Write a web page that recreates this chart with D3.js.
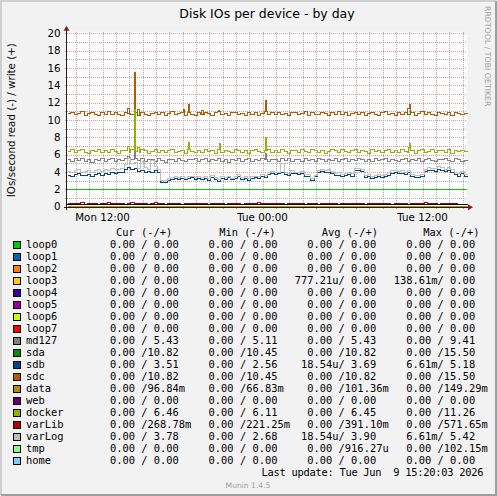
<!DOCTYPE html>
<html>
<head>
<meta charset="utf-8">
<script src="https://cdn.jsdelivr.net/npm/d3@7"></script>
<style>
  html, body { margin: 0; padding: 0; background: #f2f2f2; }
  svg { display: block; }
  text { font-family: "DejaVu Sans", sans-serif; }
  .mono text { font-family: "DejaVu Sans Mono", monospace; font-size: 10.4px; white-space: pre; }
</style>
</head>
<body>
<svg id="chart"></svg>
<script>
const width = 497;
const height = 496;

// time range of the day graph (30 h, 15 min samples)
const startTime = new Date(2026, 5, 8, 9, 20);
const endTime = new Date(2026, 5, 9, 15, 20);
const stepMin = 15;

const devices = ["loop0", "loop1", "loop2", "loop3", "loop4", "loop5", "loop6", "loop7", "md127",
    "sda", "sdb", "sdc", "data", "web", "docker", "varLib", "varLog", "tmp", "home"];
const colors = ["#00CC00", "#0066B3", "#FF8000", "#FFCC00", "#330099", "#990099", "#CCFF00", "#FF0000", "#808080",
    "#008F00", "#00487D", "#B35A00", "#B38F00", "#6B006B", "#8FB300", "#B30000", "#BEBEBE", "#80FF80", "#80C9FF"];

// legend statistics (read / write)
const curRead = [0, 0, 0, 0, 0, 0, 0, 0, 0, 0, 0, 0, 0, 0, 0, 0, 0, 0, 0];
const curWrite = [0, 0, 0, 0, 0, 0, 0, 0, 5.43, 10.82, 3.51, 10.82, 0.09684, 0, 6.46, 0.26878, 3.78, 0, 0];
const minRead = [0, 0, 0, 0, 0, 0, 0, 0, 0, 0, 0, 0, 0, 0, 0, 0, 0, 0, 0];
const minWrite = [0, 0, 0, 0, 0, 0, 0, 0, 5.11, 10.45, 2.56, 10.45, 0.06683, 0, 6.11, 0.22125, 2.68, 0, 0];
const avgRead = [0, 0, 0, 0.00077721, 0, 0, 0, 0, 0, 0, 0.00001854, 0, 0, 0, 0, 0, 0.00001854, 0, 0];
const avgWrite = [0, 0, 0, 0, 0, 0, 0, 0, 5.43, 10.82, 3.69, 10.82, 0.10136, 0, 6.45, 0.39110, 3.90, 0.00091627, 0];
const maxRead = [0, 0, 0, 0.13861, 0, 0, 0, 0, 0, 0, 0.00661, 0, 0, 0, 0, 0, 0.00661, 0, 0];
const maxWrite = [0, 0, 0, 0, 0, 0, 0, 0, 9.41, 15.50, 5.18, 15.50, 0.14929, 0, 11.26, 0.57165, 5.42, 0.10215, 0];

// write series, one value per 15 min
const sdcWrite = [
    10.80, 10.95, 10.65, 10.85, 11.00, 10.60, 10.80, 10.95, 10.70, 10.55, 10.90, 10.75, 11.00, 10.65, 10.90, 10.75, 10.60, 10.95, 10.80, 10.65,
    10.90, 10.60, 10.95, 10.75, 10.55, 10.85, 10.95, 10.70, 10.90, 10.60, 10.80, 11.00, 10.65, 10.80, 10.90, 10.55, 10.95, 10.75, 10.60, 10.90,
    10.70, 10.95, 10.80, 10.60, 10.90, 11.00, 10.70, 10.80, 10.55, 10.90, 10.95, 10.65, 10.80, 10.60, 10.95, 10.75, 10.90, 10.60, 10.80, 11.00,
    10.65, 10.90, 10.75, 10.95, 10.70, 10.80, 10.55, 10.95, 10.90, 10.65, 10.80, 11.00, 10.60, 10.90, 10.75, 10.65, 10.95, 10.80, 10.60, 10.90,
    10.75, 11.00, 10.65, 10.90, 10.60, 10.80, 10.95, 10.70, 10.90, 10.55, 10.80, 10.95, 10.75, 10.60, 10.90, 11.00, 10.70, 10.80, 10.60, 10.95,
    10.75, 10.90, 10.65, 10.95, 10.60, 10.80, 11.00, 10.70, 10.90, 10.75, 10.60, 10.95, 10.80, 10.65, 10.90, 10.60, 10.95, 10.80, 10.70, 10.82];
const sdaWrite = [
    10.80, 10.95, 10.65, 10.85, 11.00, 10.60, 10.80, 10.95, 10.70, 10.55, 10.90, 10.75, 11.00, 10.65, 10.90, 10.75, 10.60, 10.95, 10.80, 10.65,
    10.90, 10.60, 10.95, 10.75, 10.55, 10.85, 10.95, 10.70, 10.90, 10.60, 10.80, 11.00, 10.65, 10.80, 10.90, 10.55, 10.95, 10.75, 10.60, 10.90,
    10.70, 10.95, 10.80, 10.60, 10.90, 11.00, 10.70, 10.80, 10.55, 10.90, 10.95, 10.65, 10.80, 10.60, 10.95, 10.75, 10.90, 10.60, 10.80, 11.00,
    10.65, 10.90, 10.75, 10.95, 10.70, 10.80, 10.55, 10.95, 10.90, 10.65, 10.80, 11.00, 10.60, 10.90, 10.75, 10.65, 10.95, 10.80, 10.60, 10.90,
    10.75, 11.00, 10.65, 10.90, 10.60, 10.80, 10.95, 10.70, 10.90, 10.55, 10.80, 10.95, 10.75, 10.60, 10.90, 11.00, 10.70, 10.80, 10.60, 10.95,
    10.75, 10.90, 10.65, 10.95, 10.60, 10.80, 11.00, 10.70, 10.90, 10.75, 10.60, 10.95, 10.80, 10.65, 10.90, 10.60, 10.95, 10.80, 10.70, 10.82];
const dockerWrite = [
    6.45, 6.65, 6.30, 6.50, 6.70, 6.35, 6.25, 6.60, 6.40, 6.65, 6.30, 6.55, 6.35, 6.70, 6.45, 6.25, 6.60, 6.50, 6.35, 6.65,
    6.45, 6.30, 6.65, 6.50, 6.20, 6.45, 6.65, 6.35, 6.60, 6.30, 6.50, 6.70, 6.35, 6.45, 6.60, 6.25, 6.65, 6.45, 6.35, 6.60,
    6.30, 6.65, 6.45, 6.55, 6.25, 6.70, 6.35, 6.60, 6.45, 6.30, 6.65, 6.50, 6.35, 6.60, 6.25, 6.50, 6.65, 6.45, 6.30, 6.60,
    6.70, 6.35, 6.50, 6.30, 6.65, 6.45, 6.25, 6.60, 6.50, 6.35, 6.70, 6.45, 6.30, 6.65, 6.50, 6.35, 6.60, 6.25, 6.45, 6.65,
    6.50, 6.30, 6.65, 6.45, 6.35, 6.60, 6.70, 6.30, 6.50, 6.45, 6.25, 6.65, 6.45, 6.50, 6.30, 6.60, 6.70, 6.35, 6.50, 6.30,
    6.65, 6.45, 6.35, 6.60, 6.25, 6.50, 6.70, 6.35, 6.45, 6.65, 6.30, 6.50, 6.60, 6.35, 6.65, 6.25, 6.50, 6.45, 6.60, 6.46];
const md127Write = [
    5.45, 5.25, 5.60, 5.40, 5.65, 5.30, 5.45, 5.20, 5.55, 5.40, 5.60, 5.25, 5.45, 5.65, 5.30, 5.55, 5.40, 5.60, 5.70, 5.55,
    5.65, 5.40, 5.60, 5.30, 5.55, 5.45, 5.25, 5.60, 5.40, 5.20, 5.45, 5.55, 5.30, 5.60, 5.40, 5.25, 5.55, 5.45, 5.65, 5.30,
    5.45, 5.60, 5.25, 5.55, 5.40, 5.65, 5.30, 5.45, 5.20, 5.55, 5.40, 5.60, 5.30, 5.45, 5.65, 5.25, 5.55, 5.40, 5.60, 5.45,
    5.30, 5.55, 5.45, 5.25, 5.60, 5.40, 5.65, 5.30, 5.45, 5.55, 5.25, 5.60, 5.40, 5.45, 5.30, 5.65, 5.45, 5.25, 5.55, 5.40,
    5.60, 5.30, 5.45, 5.65, 5.25, 5.55, 5.40, 5.60, 5.45, 5.30, 5.55, 5.25, 5.65, 5.40, 5.45, 5.60, 5.30, 5.55, 5.40, 5.25,
    5.45, 5.60, 5.30, 5.55, 5.40, 5.65, 5.25, 5.45, 5.60, 5.40, 5.30, 5.55, 5.45, 5.65, 5.40, 5.25, 5.60, 5.45, 5.30, 5.43];
const sdbWrite = [
    3.70, 3.60, 3.75, 3.85, 3.65, 3.70, 3.80, 3.60, 3.75, 3.85, 3.70,
    3.90, 3.80, 4.00, 3.85, 3.95, 4.05,
    4.30, 4.60, 4.40, 4.50,
    4.10, 4.20, 4.00, 4.15, 4.05, 4.20, 3.95,
    2.90, 2.85,
    3.10, 3.25, 3.30, 3.20, 3.35, 3.15, 3.30, 3.40, 3.25, 3.35, 3.20,
    3.30, 3.10, 3.45, 3.25, 2.95, 3.35, 3.20, 3.40, 3.15, 3.30, 3.50, 3.20, 3.35, 3.05, 3.30,
    3.40, 3.30, 3.50, 3.45,
    3.80, 3.90, 3.75, 3.85, 3.95, 3.80, 3.70, 3.90, 3.85, 3.75, 3.90,
    3.60, 3.55, 3.10, 3.50,
    4.00, 4.10, 3.95, 4.05, 3.90,
    3.65, 3.70, 3.55, 3.65, 3.75, 3.60,
    4.20, 4.25, 4.10,
    3.45, 3.50, 3.35, 3.45, 3.55, 3.40, 3.50,
    3.70, 3.90, 3.95, 3.85, 3.90, 3.80, 3.95,
    3.50, 3.45, 3.40, 3.55,
    4.10, 4.20, 4.25, 4.15, 4.30, 4.20, 4.10, 4.25, 4.00,
    3.80, 3.60, 3.90, 3.51];
const varLogWrite = [
    4.10, 4.00, 4.20, 4.30, 4.05, 4.15, 4.25, 4.00, 4.20, 4.35, 4.10,
    4.30, 4.20, 4.45, 4.30, 4.40, 4.50,
    4.90, 5.60, 5.00, 5.20,
    4.50, 5.30, 4.60, 4.40, 5.40, 4.70, 4.30,
    3.10, 3.05,
    3.30, 3.45, 3.50, 3.40, 3.55, 3.35, 3.50, 3.60, 3.45, 3.55, 3.40,
    3.50, 3.30, 3.65, 3.45, 3.20, 3.55, 3.40, 3.60, 3.35, 3.50, 3.75, 3.40, 3.55, 3.30, 3.50,
    3.60, 3.50, 3.75, 3.65,
    4.00, 4.15, 3.95, 4.05, 5.00, 4.00, 3.90, 4.20, 4.05, 3.95, 4.10,
    3.80, 3.75, 3.30, 3.70,
    4.25, 4.35, 4.20, 4.30, 4.15,
    3.90, 3.95, 3.80, 3.90, 4.00, 3.85,
    4.45, 4.50, 4.35,
    3.70, 3.75, 3.60, 3.70, 3.80, 3.65, 3.75,
    3.95, 4.20, 4.25, 4.10, 4.20, 4.05, 4.25,
    3.75, 3.70, 3.65, 3.80,
    4.40, 4.60, 4.50, 4.45, 4.70, 4.55, 4.40, 4.60, 4.30,
    4.05, 3.85, 4.10, 3.78];
const varLibWrite = [
    0.42, 0.48, 0.38, 0.45, 0.50, 0.35, 0.44, 0.47, 0.40, 0.30, 0.46, 0.42, 0.49, 0.37, 0.44, 0.41, 0.48, 0.36, 0.45, 0.50,
    0.43, 0.38, 0.47, 0.44, 0.32, 0.46, 0.49, 0.40, 0.45, 0.35, 0.42, 0.48, 0.39, 0.44, 0.30, 0.46, 0.41, 0.47, 0.38, 0.44,
    0.40, 0.46, 0.35, 0.43, 0.48, 0.39, 0.45, 0.31, 0.42, 0.47, 0.40, 0.44, 0.36, 0.48, 0.42, 0.38, 0.45, 0.50, 0.40, 0.43,
    0.37, 0.46, 0.42, 0.39, 0.48, 0.34, 0.44, 0.41, 0.47, 0.38, 0.43, 0.30, 0.45, 0.40, 0.48, 0.36, 0.44, 0.42, 0.47, 0.39,
    0.45, 0.33, 0.43, 0.48, 0.40, 0.44, 0.37, 0.46, 0.42, 0.29, 0.45, 0.41, 0.48, 0.38, 0.44, 0.40, 0.47, 0.35, 0.43, 0.46,
    0.40, 0.44, 0.36, 0.48, 0.42, 0.39, 0.45, 0.50, 0.38, 0.43, 0.47, 0.33, 0.44, 0.40, 0.46, 0.38, 0.42, 0.30, 0.28, 0.27];
const dataWrite = [
    0.10, 0.12, 0.09, 0.11, 0.10, 0.08, 0.11, 0.13, 0.10, 0.09, 0.11, 0.10, 0.12, 0.09, 0.10, 0.11, 0.08, 0.10, 0.12, 0.10,
    0.09, 0.11, 0.10, 0.13, 0.10, 0.08, 0.11, 0.10, 0.09, 0.12, 0.10, 0.11, 0.09, 0.10, 0.12, 0.10, 0.08, 0.11, 0.10, 0.09,
    0.11, 0.10, 0.12, 0.09, 0.10, 0.11, 0.10, 0.08, 0.12, 0.10, 0.09, 0.11, 0.10, 0.13, 0.10, 0.09, 0.11, 0.10, 0.12, 0.09,
    0.10, 0.11, 0.09, 0.10, 0.12, 0.10, 0.08, 0.11, 0.10, 0.09, 0.12, 0.10, 0.11, 0.09, 0.10, 0.12, 0.10, 0.08, 0.11, 0.10,
    0.09, 0.11, 0.10, 0.12, 0.10, 0.09, 0.11, 0.10, 0.13, 0.10, 0.08, 0.11, 0.10, 0.09, 0.12, 0.10, 0.11, 0.09, 0.10, 0.12,
    0.10, 0.08, 0.11, 0.10, 0.09, 0.12, 0.10, 0.11, 0.09, 0.10, 0.12, 0.10, 0.08, 0.11, 0.10, 0.09, 0.11, 0.10, 0.10, 0.097];

// short 5-minute spikes: [minutes from start, value]
const sdcSpikes = [[270, 11.4], [275, 11.4], [300, 15.5], [315, 11.3], [320, 11.3], [520, 11.3], [545, 11.8],
    [605, 11.2], [680, 11.2], [890, 12.3], [1530, 11.4], [1535, 11.4], [1540, 11.8]];
const dockerSpikes = [[270, 7.0], [275, 7.0], [300, 11.26], [315, 6.9], [320, 6.9], [545, 7.5], [685, 7.4],
    [890, 8.0], [1535, 6.9], [1540, 7.4]];
const md127Spikes = [[270, 5.9], [275, 5.9], [300, 9.41], [890, 6.2]];
const ruleValue = 2;

const writeSeries = [
    { name: "md127", values: md127Write, spikes: md127Spikes },
    { name: "sda", values: sdaWrite, spikes: [] },
    { name: "sdb", values: sdbWrite, spikes: [] },
    { name: "sdc", values: sdcWrite, spikes: sdcSpikes },
    { name: "data", values: dataWrite, spikes: [] },
    { name: "docker", values: dockerWrite, spikes: dockerSpikes },
    { name: "varLib", values: varLibWrite, spikes: [] },
    { name: "varLog", values: varLogWrite, spikes: [] }
];

const plotLeft = 67, plotRight = 467, plotTop = 31.7, plotBottom = 206.7;

const svg = d3.select("#chart")
    .attr("width", width)
    .attr("height", height);

// background and shaded border
svg.append("rect").attr("width", width).attr("height", height).attr("fill", "#f2f2f2");
svg.append("path").attr("d", `M1,${height - 1} V1 H${width - 1}`)
    .attr("fill", "none").attr("stroke", "#cfcfcf").attr("stroke-width", 2);
svg.append("path").attr("d", `M1,${height - 1} H${width - 1} V1`)
    .attr("fill", "none").attr("stroke", "#9e9e9e").attr("stroke-width", 2);

svg.append("rect")
    .attr("x", plotLeft).attr("y", plotTop)
    .attr("width", plotRight - plotLeft).attr("height", plotBottom - plotTop)
    .attr("fill", "#ffffff");

const x = d3.scaleTime().domain([startTime, endTime]).range([plotLeft, plotRight]);
const y = d3.scaleLinear().domain([0, 20.2]).range([plotBottom, plotTop]);

// grid
const grid = svg.append("g").attr("shape-rendering", "crispEdges");
const hours = x.ticks(d3.timeHour.every(1)).filter(d => x(d) > plotLeft);
grid.selectAll(".vgrid")
    .data(hours)
    .enter()
    .append("line")
    .attr("x1", d => Math.round(x(d)) + 0.5)
    .attr("x2", d => Math.round(x(d)) + 0.5)
    .attr("y1", plotTop)
    .attr("y2", plotBottom + 2)
    .attr("stroke", d => d.getHours() % 6 === 0 ? "#eb9595" : "#ababab")
    .attr("stroke-dasharray", "1,1");
grid.selectAll(".hgrid")
    .data(d3.range(1, 21))
    .enter()
    .append("line")
    .attr("x1", plotLeft - 2)
    .attr("x2", plotRight)
    .attr("y1", d => Math.round(y(d)) + 0.5)
    .attr("y2", d => Math.round(y(d)) + 0.5)
    .attr("stroke", d => d % 2 === 0 ? "#eb9595" : "#ababab")
    .attr("stroke-dasharray", "1,1");

// series
const buildPoints = (values, spikes) => {
    const pts = [];
    values.forEach((v, i) => {
        const t0 = i * stepMin, t1 = t0 + stepMin;
        let t = t0;
        spikes.filter(s => s[0] >= t0 && s[0] < t1)
            .sort((a, b) => a[0] - b[0])
            .forEach(s => {
                if (s[0] > t) pts.push([t, v]);
                pts.push([s[0], s[1]]);
                t = s[0] + 5;
            });
        if (t < t1) pts.push([t, v]);
    });
    pts.push([values.length * stepMin, values[values.length - 1]]);
    return pts;
};
const minuteToDate = m => new Date(startTime.getTime() + m * 60000);
const line = d3.line()
    .x(d => Math.round(x(minuteToDate(d[0]))) + 0.5)
    .y(d => Math.round(y(d[1])) + 0.5)
    .curve(d3.curveStepAfter);

const lines = svg.append("g").attr("shape-rendering", "crispEdges");
lines.append("line")
    .attr("x1", plotLeft).attr("x2", plotRight)
    .attr("y1", Math.round(y(ruleValue)) + 0.5).attr("y2", Math.round(y(ruleValue)) + 0.5)
    .attr("stroke", colors[0]).attr("stroke-width", 1);
writeSeries.forEach(s => {
    lines.append("path")
        .datum(buildPoints(s.values, s.spikes))
        .attr("d", line)
        .attr("fill", "none")
        .attr("stroke", colors[devices.indexOf(s.name)])
        .attr("stroke-width", 1.6);
});
// zero line
lines.append("line")
    .attr("x1", plotLeft).attr("x2", plotRight)
    .attr("y1", plotBottom - 2).attr("y2", plotBottom - 2)
    .attr("stroke", "#000").attr("stroke-width", 1);

// axes
const axis = svg.append("g").attr("shape-rendering", "crispEdges");
axis.append("line")
    .attr("x1", plotLeft - 0.5).attr("x2", plotLeft - 0.5)
    .attr("y1", plotBottom + 3).attr("y2", plotTop - 3)
    .attr("stroke", "#1f1f1f");
axis.append("line")
    .attr("x1", plotLeft - 3).attr("x2", plotRight + 3)
    .attr("y1", plotBottom + 0.5).attr("y2", plotBottom + 0.5)
    .attr("stroke", "#1f1f1f");
svg.append("path")
    .attr("d", `M${plotLeft - 3.5},${plotTop - 1} L${plotLeft + 2.5},${plotTop - 1} L${plotLeft - 0.5},${plotTop - 6} Z`)
    .attr("fill", "#801f1f");
svg.append("path")
    .attr("d", `M${plotRight + 1},${plotBottom - 2.5} L${plotRight + 1},${plotBottom + 3.5} L${plotRight + 6},${plotBottom + 0.5} Z`)
    .attr("fill", "#801f1f");

// tick labels
svg.append("g").selectAll("text")
    .data(d3.range(0, 21, 2))
    .enter()
    .append("text")
    .attr("x", 60.5)
    .attr("y", d => y(d) + 3.7)
    .attr("text-anchor", "end")
    .attr("font-size", "10.3px")
    .attr("fill", "#000")
    .text(d => d);
svg.append("g").selectAll("text")
    .data(hours.filter(d => d.getHours() % 12 === 0))
    .enter()
    .append("text")
    .attr("x", d => x(d))
    .attr("y", 221)
    .attr("text-anchor", "middle")
    .attr("font-size", "10.3px")
    .attr("fill", "#000")
    .text(d3.timeFormat("%a %H:%M"));

// titles
svg.append("text")
    .attr("x", (plotLeft + plotRight) / 2)
    .attr("y", 18.3)
    .attr("text-anchor", "middle")
    .attr("font-size", "12.5px")
    .attr("fill", "#000")
    .text("Disk IOs per device - by day");
svg.append("text")
    .attr("transform", `translate(15.3, ${(plotTop + plotBottom) / 2 + 1}) rotate(-90)`)
    .attr("text-anchor", "middle")
    .attr("font-size", "10.3px")
    .attr("fill", "#000")
    .text("IOs/second read (-) / write (+)");
svg.append("text")
    .attr("transform", "translate(485.3, 6) rotate(90)")
    .attr("font-size", "7.8px")
    .attr("fill", "#a0a0a0")
    .text("RRDTOOL / TOBI OETIKER");

// legend: each column is read value, "/", write value in a monospace grid
const charW = 6.26;
const slashStart = [141.3, 239.9, 338.6, 437.6];
const headerX = [116, 219.3, 321.7, 423.3];
const headers = ["Cur (-/+)", "Min (-/+)", "Avg (-/+)", "Max (-/+)"];
const stats = [[curRead, curWrite], [minRead, minWrite], [avgRead, avgWrite], [maxRead, maxWrite]];
const rowY0 = 247.7, rowStep = 12;

const fmt = v => {
    if (v === 0) return ["0.00", ""];
    if (v < 1e-3) return [(v * 1e6).toFixed(2), "u"];
    if (v < 1) return [(v * 1e3).toFixed(2), "m"];
    return [v.toFixed(2), ""];
};

const legend = svg.append("g").attr("class", "mono").attr("fill", "#000");
legend.selectAll(".hdr")
    .data(headers)
    .enter()
    .append("text")
    .attr("x", (d, i) => headerX[i])
    .attr("y", 235.5)
    .text(d => d);

devices.forEach((dev, r) => {
    const yy = rowY0 + r * rowStep;
    legend.append("rect")
        .attr("x", 13.5).attr("y", yy - 6.7)
        .attr("width", 7).attr("height", 7)
        .attr("fill", colors[r])
        .attr("stroke", "#000").attr("stroke-width", 1)
        .attr("shape-rendering", "crispEdges");
    legend.append("text").attr("x", 26).attr("y", yy).text(dev);
    stats.forEach(([rd, wr], c) => {
        const s = slashStart[c];
        const [rn, rs] = fmt(rd[r]);
        legend.append("text")
            .attr("x", rs ? s : s - charW)
            .attr("y", yy)
            .attr("text-anchor", "end")
            .text(rn + rs);
        legend.append("text")
            .attr("x", s + charW / 2)
            .attr("y", yy)
            .attr("text-anchor", "middle")
            .text("/");
        const [wn, ws] = fmt(wr[r]);
        legend.append("text")
            .attr("x", s + charW * (1 + Math.max(0, 5 - wn.length)))
            .attr("y", yy)
            .text(wn + ws);
    });
});

legend.append("text")
    .attr("x", 261.5)
    .attr("y", 476)
    .attr("xml:space", "preserve")
    .attr("textLength", 222)
    .attr("lengthAdjust", "spacing")
    .text("Last update: Tue Jun  9 15:20:03 2026");

svg.append("text")
    .attr("x", 248)
    .attr("y", 487.5)
    .attr("text-anchor", "middle")
    .attr("font-size", "7.6px")
    .attr("fill", "#a0a0a0")
    .text("Munin 1.4.5");
</script>
</body>
</html>
